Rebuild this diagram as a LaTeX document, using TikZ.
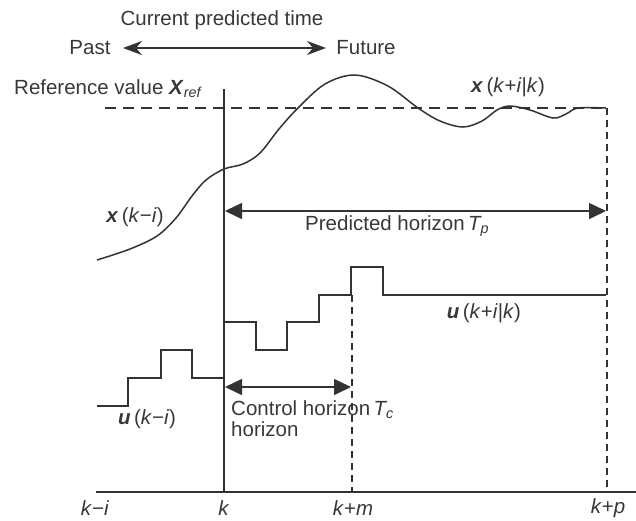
\documentclass[tikz,border=0pt]{standalone}
\usepackage{fontspec}
\setmainfont{Liberation Sans}
\usetikzlibrary{arrows.meta}
\definecolor{ink}{HTML}{333333}
\definecolor{txt}{HTML}{383838}
\begin{document}
\begin{tikzpicture}[x=1pt,y=-1pt,
  lbl/.style={text=txt,font=\fontsize{20.5}{22}\selectfont,inner sep=0pt},
  thin/.style={draw=ink,line width=1.5pt},
  kline/.style={draw=ink,line width=2.8pt},
  refdash/.style={draw=ink,line width=2.8pt,dash pattern=on 11pt off 7pt},
  vdash/.style={draw=ink,line width=1.6pt,dash pattern=on 7pt off 5pt},
  tritwo/.style={{Triangle[length=17pt,width=16pt]}-{Triangle[length=17pt,width=16pt]}},
  stl/.style={{Stealth[length=19pt,width=14pt,inset=6pt]}-{Stealth[length=19pt,width=14pt,inset=6pt]}}]
\useasboundingbox (0,0) rectangle (636,520);
% texts
\node[lbl] (cur) at (222,20) {Current predicted time};
\node[lbl] (past) at (90,48) {Past};
\node[lbl] (fut) at (366,48) {Future};
\coordinate (pa) at (123,48);
\coordinate (fa) at (326,48);
\draw[thin,stl,fill=ink] (pa) -- (fa);
\node[lbl,anchor=west] (ref) at (14,89) {Reference value \textbf{\textit{X}}\textsubscript{\textit{ref}}};
\node[lbl] (xpred) at (508,87) {\textbf{\textit{x}}\,(\textit{k}+\textit{i}|\textit{k})};
\node[lbl] (xpast) at (135,217) {\textbf{\textit{x}}\,(\textit{k}−\textit{i})};
\node[lbl,anchor=west] (ph) at (305,226) {Predicted horizon\,\textit{T\textsubscript{p}}};
\node[lbl] (upred) at (484,313) {\textbf{\textit{u}}\,(\textit{k}+\textit{i}|\textit{k})};
\node[lbl] (upast) at (147,419) {\textbf{\textit{u}}\,(\textit{k}−\textit{i})};
\node[lbl,anchor=west] (ch) at (231,410) {Control horizon\,\textit{T\textsubscript{c}}};
\node[lbl,anchor=west] (ch2) at (231,429) {horizon};
\node[lbl] (lki) at (95,508) {\textit{k}−\textit{i}};
\node[lbl] (lk) at (224,508) {\textit{k}};
\node[lbl] (lkm) at (353,508) {\textit{k}+\textit{m}};
\node[lbl] (lkp) at (608,508) {\textit{k}+\textit{p}};
% coordinates
\coordinate (ktop) at (224,89);
\coordinate (kbot) at (224,492);
\coordinate (axl) at (96,492);
\coordinate (axr) at (636,492);
\coordinate (refl) at (105,108);
\coordinate (refr) at (607,108);
\coordinate (pbot) at (607,492);
\coordinate (mtop) at (352,295);
\coordinate (mbot) at (352,492);
% reference & horizons
\draw[refdash] (refl) -- (refr);
\draw[vdash] (refr) -- (pbot);
\draw[vdash] (mtop) -- (mbot);
\draw[draw=ink,line width=1.6pt] (axl) -- (axr);
\draw[kline] (ktop) -- (kbot);
\coordinate (pha) at (225,211);
\coordinate (phb) at (606,211);
\draw[thin,tritwo,fill=ink] (pha) -- (phb);
\coordinate (cha) at (225,387);
\coordinate (chb) at (351,387);
\draw[thin,tritwo,fill=ink] (cha) -- (chb);
% output trajectory
\draw[thin] plot[smooth,tension=0.55] coordinates {(97,260) (130,249) (157,236) (176,218) (192,196) (206,180) (224,169) (243,164) (260,153) (279,129) (298,108) (325,84) (355,75) (388,86) (418,108) (440,121) (463,127) (482,121) (497,110) (510,106) (530,110) (553,118) (566,114) (578,108) (606,108)};
% inputs
\draw[thin] (97,406) -- (128,406) -- (128,378) -- (161,378) -- (161,350) -- (192,350) -- (192,378) -- (224,378);
\draw[thin] (224,322) -- (256,322) -- (256,350) -- (287,350) -- (287,322) -- (319,322) -- (319,295) -- (351,295) -- (351,267) -- (383,267) -- (383,295) -- (606,295);
\end{tikzpicture}
\end{document}
